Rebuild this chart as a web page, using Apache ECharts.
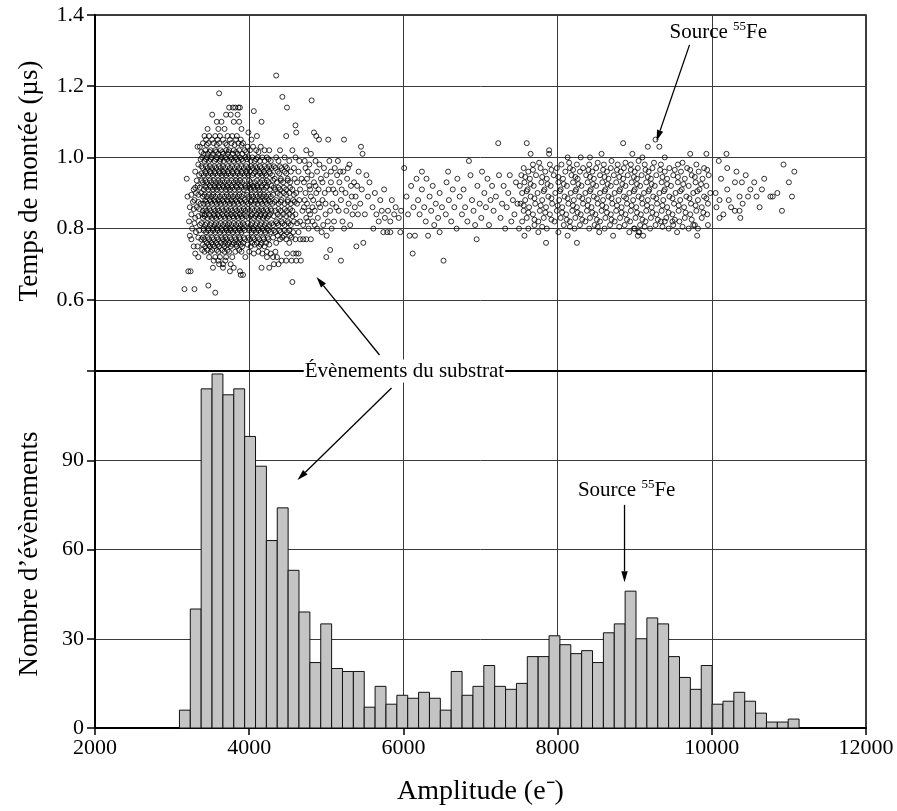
<!DOCTYPE html>
<html><head><meta charset="utf-8">
<script src="https://cdn.jsdelivr.net/npm/echarts@6/dist/echarts.min.js"></script>
<style>html,body{margin:0;padding:0;background:#fff}#c{width:897px;height:811px}</style>
</head><body><div id="c"></div>
<script>
const FONT = "'Liberation Serif','Times New Roman',serif";

// ---------- Histogram (bottom panel) ----------
const binStart = 3095;       // e-
const binWidth = 141;        // e-
const histCounts = [6,40,114,119,112,114,98,88,63,74,53,39,22,35,20,19,19,7,14,8,
  11,10,12,10,6,19,11,14,21,14,13,15,24,24,31,28,25,26,22,32,
  35,46,30,37,35,24,17,13,21,8,9,12,9,5,2,2,3];

// ---------- Rise time scatter (top panel) ----------
// rows: [rise time (µs), amplitude1, amplitude2, ...]
const riseRowsSubstrate = [
 [1.14,3740,3790,3820,3860,3880],
 [1.12,3520,3700,3760,3850],
 [1.10,3580,3640,3800,3870],
 [1.08,3460,3600,3680,3900],
 [1.06,3420,3480,3560,3620,3720,3780,3840],
 [1.05,3440,3520,3590,3660,3750,3830,3890],
 [1.04,3400,3470,3540,3610,3690,3770,3860,3920],
 [1.035,3450,3580,3710,3810,3900],
 [1.03,3360,3330,3980,4050,4150],
 [1.02,3430,3500,3560,3630,3700,3740,3800,3870,3940,4010,4090,4200,4260,4400,4560],
 [1.015,3380,3490,3570,3650,3730,3830,3960,4120],
 [1.01,3410,3460,3530,3600,3660,3720,3790,3850,3910],
 [1.00,3390,3450,3510,3580,3640,3690,3760,3820,3880,3950,3990,4040,4110,4170,4230,4350,4460,4600],
 [0.995,3370,3440,3500,3570,3630,3710,3770,3840,3900,3970,4090,4250],
 [0.99,3420,3480,3550,3620,3670,3740,3800,3860,3920,4020,4070,4140,4200,4280,4380,4520,4650],
 [0.98,3340],
 [0.975,3380,3440,3490,3550,3610,3660,3720,3780,3840,3900,3960,4020,4080,4140,4200,4260,4320,4400,4470],
 [0.97,3400,3460,3520,3570,3630,3690,3750,3810,3870,3930,3990,4050,4100,4160,4230,4290,4340,4420,4490,4580],
 [0.96,3430,3490,3550,3610,3660,3720,3780,3840,3900,3960,4010,4080,4130,4190,4260,4370,4460,4540,4640,3300],
 [0.955,3380,3440,3500,3560,3620,3680,3730,3790,3850,3910,3970,4060,4140,4200,4270,4390,4480],
 [0.95,3410,3470,3530,3590,3650,3700,3760,3820,3880,3940,3990,4040,4110,4170,4220,4300,3350],
 [0.94,3190,4330,4410,4500,4590,4680],
 [0.935,3320,3380,3430,3490,3540,3600,3650,3710,3770,3830,3880,3940,4000,4100,4170,4230,4310,4410,4500],
 [0.93,3400,3450,3510,3570,3620,3680,3740,3800,3850,3910,4020,4070,4140,4200,4250,4360,4440,4530,4620],
 [0.92,3430,3490,3550,3600,3660,3710,3770,3830,3890,3950,3990,4050,4100,4160,4230,4290,3330],
 [0.915,3300,3360,3440,3500,3560,3610,3670,3730,3780,3840,3900,3960,4010,4060,4110,4160,4220,4320,4380,4450,4530],
 [0.91,3410,3470,3530,3580,3640,3700,3750,3810,3870,3930,4020,4080,4130,4190,4270,4340,4400,4480,4560,4660,3280],
 [0.90,3310,3380,4370,4450,4520,4610],
 [0.895,3250,3340,3420,3480,3530,3590,3650,3710,3760,3820,3870,3930,3970,4030,4090,4140,4190,4250,4310,4400,4480,4580],
 [0.89,3200,3400,3450,3510,3560,3620,3680,3730,3790,3850,3900,4000,4050,4110,4170,4220,4280],
 [0.88,3290,3430,3490,3540,3600,3650,3710,3770,3820,3880,3940,4030,4080,4140,4200,4250,4350,4420,4500,4570,4650],
 [0.875,3270,3340,3440,3500,3560,3610,3670,3720,3780,3840,3900,3960,4020,4080,4150,4210,4270,4330,4410,4500,4590],
 [0.87,3370,3410,3460,3520,3580,3630,3690,3750,3800,3860,3920,3990,4060,4110,4170,4230,4300,4380,4460,4540,4620],
 [0.86,3230,3320],
 [0.855,3280,3350,3430,3480,3540,3590,3650,3700,3760,3820,3870,3930,3980,4040,4100,4160,4220,4280,4380,4460,4530],
 [0.85,3400,3450,3500,3560,3610,3670,3730,3780,3840,3900,3950,4010,4070,4130,4180,4240,4290,4340,4410,4490,4560,4690],
 [0.84,3250,3390,3420,3480,3540,3590,3650,3710,3760,3820,3880,3930,4040,4100,4150,4210,4270,4370,4440,4520,4600],
 [0.835,3340,3420,3490,3550,3610,3670,3730,3790,3840,3900,3960,4020,4080,4140,4200,4250,4320,4400,4480,4560],
 [0.83,3300,3400,3460,3520,3570,3630,3690,3740,3800,3860,3910,3990,4060,4120,4180,4230],
 [0.82,3220,4350,4420,4500,4580,4660],
 [0.815,3290,3380,3450,3510,3570,3630,3690,3740,3800,3860,3920,3980,4040,4100,4160,4220,4290,4360,4430,4510,4620],
 [0.81,3360,3430,3490,3550,3600,3660,3720,3770,3830,3890,3940,4020,4080,4140,4200,4260,4310,4380,4460,4540],
 [0.80,3260,3410,3470,3530,3580,3640,3700,3750,3810,3870,3920,4000,4050,4110,4170,4230],
 [0.795,3350,3410,3470,3530,3590,3650,3710,3760,3820,3880,3940,4000,4060,4120,4190,4250,4320,4390,4460,4520],
 [0.79,3310,3440,3500,3560,3620,3680,3730,3790,3850,3900,4030,4090,4150,4210,4280,4340,4410,4490,4570,4640],
 [0.78,3230,4370,4450,4530],
 [0.775,3340,3400,3460,3520,3580,3640,3690,3750,3810,3870,3930,3990,4050,4110,4180,4240,4310,4430,4550],
 [0.77,3250,3380,3420,3480,3540,3600,3660,3710,3770,3830,3880,3940,4010,4070,4130,4190,4250,4400,4480,4600,4700],
 [0.76,3450,3510,3570,3630,3690,3740,3800,3860,3920,4040,4100,4160,4220,4350,4520],
 [0.755,3400,3470,3530,3590,3660,3720,3780,3830,3890,3980,4070,4150,4260],
 [0.75,3280,3330,3430,3490,3550,3610,3680,3760,3840,3910,4020,4130,4200],
 [0.74,3390,3460,3520,3580,3650,3720,3870],
 [0.735,3420,3500,3600,3680,3740,3820,3900,4000,4120,4230,4340],
 [0.73,3300,4060,4170,4280,4490,4570,4610,4640],
 [0.72,3340,3480,3560,3620,3700,3780,3950,4230,4310,4360],
 [0.71,3540,3600,3690,4420,4480,4550,4610,4670],
 [0.70,3610,3660,3760,4320,4380],
 [0.69,3530,3660,3800,4160,4260],
 [0.68,3210,3240,3750,3880],
 [0.67,3890,3920]
];
const riseOutliersSubstrate = [[3160,0.63],[3290,0.63],[3470,0.64],[3560,0.62],[4560,0.65],
 [4060,1.13],[4160,1.10],[3990,1.07],[4100,1.06],[4030,1.05],[4350,1.23],[4430,1.17],
 [4490,1.14],[4480,1.06],[4600,1.09],[4610,1.07],[3610,1.18]];

const riseMid = [ // 4700 - 7500 e-
 [4810,1.16],[4840,1.07],[4870,1.06],[4905,1.05],[5025,1.05],[5230,1.05],[5450,1.03],[5470,1.01],[4740,1.02],[4800,1.01],
 [4660,0.77],[4740,0.77],[4800,0.77],[5005,0.78],[5050,0.74],[5000,0.72],[5190,0.71],[5390,0.75],[5480,0.76],[5610,0.80],[5740,0.79],[5790,0.79],[5830,0.79],
 [4720,0.99],[4760,0.96],[4710,0.93],[4780,0.92],[4730,0.90],[4800,0.89],[4750,0.87],[4710,0.86],[4790,0.84],[4740,0.83],[4700,0.81],[4770,0.80],
 [4820,0.82],[4850,0.85],[4830,0.88],[4870,0.90],[4840,0.93],[4880,0.96],[4860,0.99],[4910,0.98],[4930,0.94],[4900,0.91],[4950,0.88],[4920,0.86],
 [4890,0.83],[4960,0.81],[4940,0.79],[4990,0.84],[4980,0.90],[5000,0.95],[4970,0.97],[4750,0.94],[4810,0.95],[4770,0.85],[4880,0.80],
 [4730,0.97],[4780,0.98],[4720,0.88],[4760,0.82],[4790,0.91],[4820,0.86],[4850,0.81],[4860,0.92],[4900,0.87],[4950,0.93],[4990,0.87],
 [5020,0.82],[5060,0.96],[5090,0.91],[5130,0.86],[5180,0.96],[5200,0.91],[5260,0.85],[5280,0.97],[5330,0.89],[5400,0.92],[5410,0.84],
 [5040,0.99],[5060,0.93],[5030,0.91],[5080,0.87],[5050,0.85],[5100,0.82],[5070,0.80],[5120,0.90],[5140,0.95],[5110,0.97],[5170,0.93],[5190,0.88],
 [5160,0.85],[5210,0.82],[5230,0.80],[5250,0.90],[5270,0.94],[5220,0.96],[5300,0.98],[5320,0.92],[5290,0.87],[5340,0.84],[5310,0.81],[5370,0.86],
 [5360,0.93],[5380,0.89],[5150,0.99],
 [5420,0.96],[5440,0.87],[5460,0.91],[5500,0.84],[5520,0.95],[5540,0.89],[5560,0.93],[5600,0.86],[5650,0.84],[5680,0.82],[5700,0.88],[5720,0.85],
 [5760,0.83],[5800,0.85],[5830,0.82],[5850,0.88],[5880,0.84],[5900,0.86],[5940,0.83],[5960,0.79],[5970,0.85],[5630,0.90],[5750,0.91],
 [6010,0.97],[6040,0.89],[6060,0.84],[6080,0.78],[6100,0.92],[6120,0.73],[6130,0.86],[6150,0.78],[6170,0.94],[6190,0.88],[6210,0.84],[6240,0.91],
 [6270,0.86],[6290,0.82],[6320,0.78],[6340,0.89],[6360,0.85],[6380,0.92],[6400,0.81],[6420,0.87],[6450,0.83],[6470,0.90],[6500,0.86],[6520,0.71],
 [6550,0.84],[6560,0.93],[6590,0.88],[6620,0.82],[6640,0.91],[6660,0.86],[6690,0.80],[6700,0.94],[6730,0.89],[6760,0.84],[6780,0.91],[6800,0.86],
 [6830,0.82],[6850,0.99],[6870,0.95],[6890,0.88],[6910,0.85],[6930,0.81],[6950,0.77],[6960,0.92],[6990,0.87],[7010,0.83],[7020,0.96],[7050,0.90],
 [7070,0.86],[7090,0.94],[7110,0.81],[7130,0.88],[7150,0.92],[7170,0.85],[7200,0.89],[7230,1.04],[7240,0.95],[7260,0.83],[7280,0.87],[7300,0.92],
 [7320,0.80],[7340,0.86],[7360,0.90],[7380,0.95],[7400,0.82],[7420,0.88],[7440,0.84],[7460,0.93],[7480,0.87],[7500,0.80],[6240,0.96],[6580,0.96],
 [6470,0.79],[6300,0.94]
];

const riseRowsSource = [ // 7500 - 10000 e-
 [0.985,7760,8150,8520,8880,9250,9620],
 [0.98,7680,7900,8050,8250,8410,8600,8780,8950,9130,9340,9560,9800],
 [0.97,7560,7780,7990,8160,8330,8500,8690,8860,9040,9230,9450,9680,9900],
 [0.965,7680,7920,8200,8400,8590,8770,8950,9140,9330,9520,9720,9940],
 [0.96,7620,7840,8100,8290,8450,8640,8820,9000,9180,9390,9600,9830],
 [0.95,7530,7720,7950,8180,8370,8550,8730,8910,9090,9280,9500,9740,9960],
 [0.945,7580,7800,8010,8230,8420,8610,8800,8990,9170,9360,9560,9780],
 [0.94,7640,7860,8070,8260,8470,8660,8850,9030,9210,9420,9650,9880],
 [0.93,7570,7790,8010,8200,8390,8580,8760,8960,9150,9350,9560,9790],
 [0.925,7650,7870,8080,8270,8460,8650,8840,9030,9220,9420,9630,9860],
 [0.92,7510,7690,7910,8120,8310,8500,8690,8880,9070,9260,9470,9700,9930],
 [0.91,7610,7830,8040,8240,8430,8620,8810,9000,9190,9390,9610,9840],
 [0.905,7600,7820,8030,8230,8420,8610,8800,8990,9180,9380,9590,9810],
 [0.90,7540,7740,7970,8170,8360,8550,8740,8930,9120,9320,9530,9760,9980],
 [0.89,7650,7880,8090,8280,8470,8660,8860,9050,9240,9450,9670,9900],
 [0.885,7700,7920,8130,8320,8510,8700,8890,9090,9280,9490,9710,9930],
 [0.88,7580,7800,8020,8210,8400,8590,8790,8980,9170,9370,9590,9820],
 [0.87,7520,7710,7930,8140,8330,8520,8710,8900,9100,9290,9510,9730,9950],
 [0.865,7560,7780,8000,8200,8390,8580,8770,8960,9160,9360,9570,9790],
 [0.86,7630,7850,8060,8250,8440,8630,8830,9020,9220,9420,9640,9870],
 [0.85,7560,7770,7990,8190,8380,8570,8760,8950,9150,9350,9570,9800],
 [0.845,7620,7840,8060,8260,8450,8640,8830,9030,9230,9440,9660,9890],
 [0.84,7680,7900,8110,8300,8490,8690,8880,9080,9280,9490,9720,9940],
 [0.83,7600,7820,8040,8230,8420,8620,8810,9010,9210,9410,9650,9870],
 [0.825,7700,7920,8120,8320,8510,8700,8900,9100,9300,9520,9740],
 [0.82,7540,7750,7960,8160,8360,8550,8740,8940,9140,9340,9580],
 [0.81,7700,8080,8290,8480,8680,8870,9070,9270,9500,9780],
 [0.805,7800,8160,8520,8800,9130,9360,9620],
 [0.80,7620,7860,8220,8410,8610,8990,9200,9440,9700],
 [0.79,7750,8010,8540,8930,9060,9550],
 [0.78,7570,8130,8720,9040,9810],
 [0.76,7850,8250]
];
const riseOutliersSource = [[7600,1.04],[7650,1.01],[7890,1.02],[7890,1.01],[8570,1.01],[8850,1.04],[8970,1.01],
 [9170,1.03],[9270,1.05],[9320,1.03],[9390,1.00],[9720,1.01],[9930,1.01],[8130,1.00],[8300,1.00],[8420,1.00],
 [9100,1.00],[9050,0.99],[8700,0.99],[9000,0.80],[9050,0.79],[9110,0.78],[9390,0.82],[9490,0.82],[9760,0.81],
 [9820,0.80],[9950,0.81],[10100,0.83],[10370,0.83]];
const riseHigh = [ // > 10000 e-
 [10090,0.99],[10190,1.01],[10200,0.97],[10320,0.96],[10440,0.95],[10680,0.94],[10120,0.94],[10200,0.91],[10300,0.93],
 [10390,0.93],[10360,0.89],[10470,0.89],[10580,0.89],[10500,0.91],[10650,0.91],[10760,0.89],[10790,0.89],[10400,0.87],
 [10220,0.88],[10150,0.84],[10300,0.85],[10360,0.85],[10550,0.93],[10930,0.98],[11070,0.96],[11000,0.93],[11040,0.89],
 [10910,0.85],[10050,0.90],[10060,0.86],[10100,0.88],[10250,0.86],[10620,0.86],[10850,0.90]
];

// ---------- Annotation anchors (data units) ----------
const srcTopLabelAt = [9451, 1.352];
const srcTopArrow = [[9711, 1.316], [9283, 1.046]];
const substrateLabelAt = [6014, 120];
const substrateArrowUp = [[5690, 0.445], [4873, 0.664]];
const substrateArrowDown = [[5846, 114.3], [4626, 83.4]];
const srcBotLabelAt = [8263, 80];
const srcBotArrow = [[8868, 75], [8868, 49]];

// ---------- build ----------
const rowsToPts = rows => rows.flatMap(r => r.slice(1).map(x => [x, r[0]]));
const scatterData = [].concat(rowsToPts(riseRowsSubstrate), riseOutliersSubstrate, riseMid,
  rowsToPts(riseRowsSource), riseOutliersSource, riseHigh);
const histData = histCounts.map((c, i) => [binStart + i * binWidth, binStart + (i + 1) * binWidth, c]);

const chart = echarts.init(document.getElementById('c'), null, {renderer: 'canvas'});
const axisCommon = {
  axisLine: {show: true, lineStyle: {color: '#000', width: 2}},
  splitLine: {show: true, lineStyle: {color: '#3a3a3a', width: 1}},
};
const option = {
  animation: false,
  backgroundColor: '#fff',
  grid: [
    {left: 95, right: 31, top: 15, height: 356, show: true, borderColor: '#000', borderWidth: 1.5},
    {left: 95, right: 31, top: 371, height: 357, show: true, borderColor: '#000', borderWidth: 1.5}
  ],
  xAxis: [
    Object.assign({gridIndex: 0, type: 'value', min: 2000, max: 12000, interval: 2000,
      axisLabel: {show: false}, axisTick: {show: false}}, axisCommon),
    Object.assign({gridIndex: 1, type: 'value', min: 2000, max: 12000, interval: 2000,
      axisTick: {show: true, length: 7, lineStyle: {color: '#000', width: 1.5}},
      axisLabel: {color: '#000', fontFamily: FONT, fontSize: 22, margin: 9, formatter: v => String(v)},
      name: 'Amplitude (e\u207B)', nameLocation: 'middle', nameGap: 50,
      nameTextStyle: {color: '#000', fontFamily: FONT, fontSize: 28}}, axisCommon)
  ],
  yAxis: [
    Object.assign({gridIndex: 0, type: 'value', min: 0.4, max: 1.4, interval: 0.2,
      axisTick: {show: true, length: 8, lineStyle: {color: '#000', width: 1.5}},
      axisLabel: {color: '#000', fontFamily: FONT, fontSize: 22, margin: 11,
        formatter: v => v < 0.5 ? '' : v.toFixed(1)}}, axisCommon),
    Object.assign({gridIndex: 1, type: 'value', min: 0, max: 120, interval: 30,
      axisTick: {show: true, length: 8, lineStyle: {color: '#000', width: 1.5}},
      axisLabel: {color: '#000', fontFamily: FONT, fontSize: 22, margin: 11,
        formatter: v => v >= 120 ? '' : String(v)}}, axisCommon)
  ],
  series: [
    {type: 'scatter', xAxisIndex: 0, yAxisIndex: 0, data: scatterData, symbol: 'circle', symbolSize: 5,
      itemStyle: {color: 'rgba(255,255,255,0)', borderColor: '#000', borderWidth: 1}, z: 3, silent: true},
    {type: 'custom', xAxisIndex: 1, yAxisIndex: 1, data: histData, z: 3, silent: true,
      renderItem: (params, api) => {
        const p0 = api.coord([api.value(0), 0]);
        const p1 = api.coord([api.value(1), api.value(2)]);
        return {type: 'rect', shape: {x: p0[0], y: p1[1], width: p1[0] - p0[0], height: p0[1] - p1[1]},
          style: {fill: '#c4c4c4', stroke: '#111', lineWidth: 1}};
      }}
  ]
};
chart.setOption(option);

function arrowEls(a, b) {
  const [x1, y1] = a, [x2, y2] = b;
  const ang = Math.atan2(y2 - y1, x2 - x1);
  const L = 11, W = 3.2;
  const bx = x2 - L * Math.cos(ang), by = y2 - L * Math.sin(ang);
  const px = -Math.sin(ang) * W, py = Math.cos(ang) * W;
  return [
    {type: 'line', shape: {x1, y1, x2: bx, y2: by}, style: {stroke: '#000', lineWidth: 1.3}, z: 100},
    {type: 'polygon', shape: {points: [[x2, y2], [bx + px, by + py], [bx - px, by - py]]}, style: {fill: '#000'}, z: 100}
  ];
}
const px = (g, v) => chart.convertToPixel({gridIndex: g}, v);
const srcRich = {a: {fontFamily: FONT, fontSize: 21, lineHeight: 24, fill: '#000'},
  s: {fontFamily: FONT, fontSize: 13, lineHeight: 13, verticalAlign: 'top', fill: '#000'}};
const tTop = px(0, srcTopLabelAt), tSub = px(1, substrateLabelAt), tBot = px(1, srcBotLabelAt);
const graphics = [].concat(
  arrowEls(px(0, srcTopArrow[0]), px(0, srcTopArrow[1])),
  arrowEls(px(0, substrateArrowUp[0]), px(0, substrateArrowUp[1])),
  arrowEls(px(1, substrateArrowDown[0]), px(1, substrateArrowDown[1])),
  arrowEls(px(1, srcBotArrow[0]), px(1, srcBotArrow[1])),
  [
    {type: 'text', x: tTop[0], y: tTop[1], z: 100, style: {text: '{a|Source }{s|55}{a|Fe}', rich: srcRich,
      textAlign: 'left', textVerticalAlign: 'middle'}},
    {type: 'text', x: tBot[0], y: tBot[1], z: 100, style: {text: '{a|Source }{s|55}{a|Fe}', rich: srcRich,
      textAlign: 'left', textVerticalAlign: 'middle'}},
    {type: 'text', x: tSub[0], y: tSub[1], z: 100, style: {text: '\u00C9v\u00E8nements du substrat',
      fontFamily: FONT, fontSize: 21, fill: '#000', backgroundColor: '#fff', padding: [1, 1],
      textAlign: 'center', textVerticalAlign: 'middle'}},
    {type: 'text', x: 30, y: 181, rotation: Math.PI / 2, z: 100, style: {text: 'Temps de mont\u00E9e (\u00B5s)',
      fontFamily: FONT, fontSize: 27, fill: '#000', textAlign: 'center', textVerticalAlign: 'middle'}},
    {type: 'text', x: 30, y: 554, rotation: Math.PI / 2, z: 100, style: {text: 'Nombre d\u2019\u00E9v\u00E8nements',
      fontFamily: FONT, fontSize: 27, fill: '#000', textAlign: 'center', textVerticalAlign: 'middle'}}
  ]
);
chart.setOption({graphic: graphics});
</script>
</body></html>
